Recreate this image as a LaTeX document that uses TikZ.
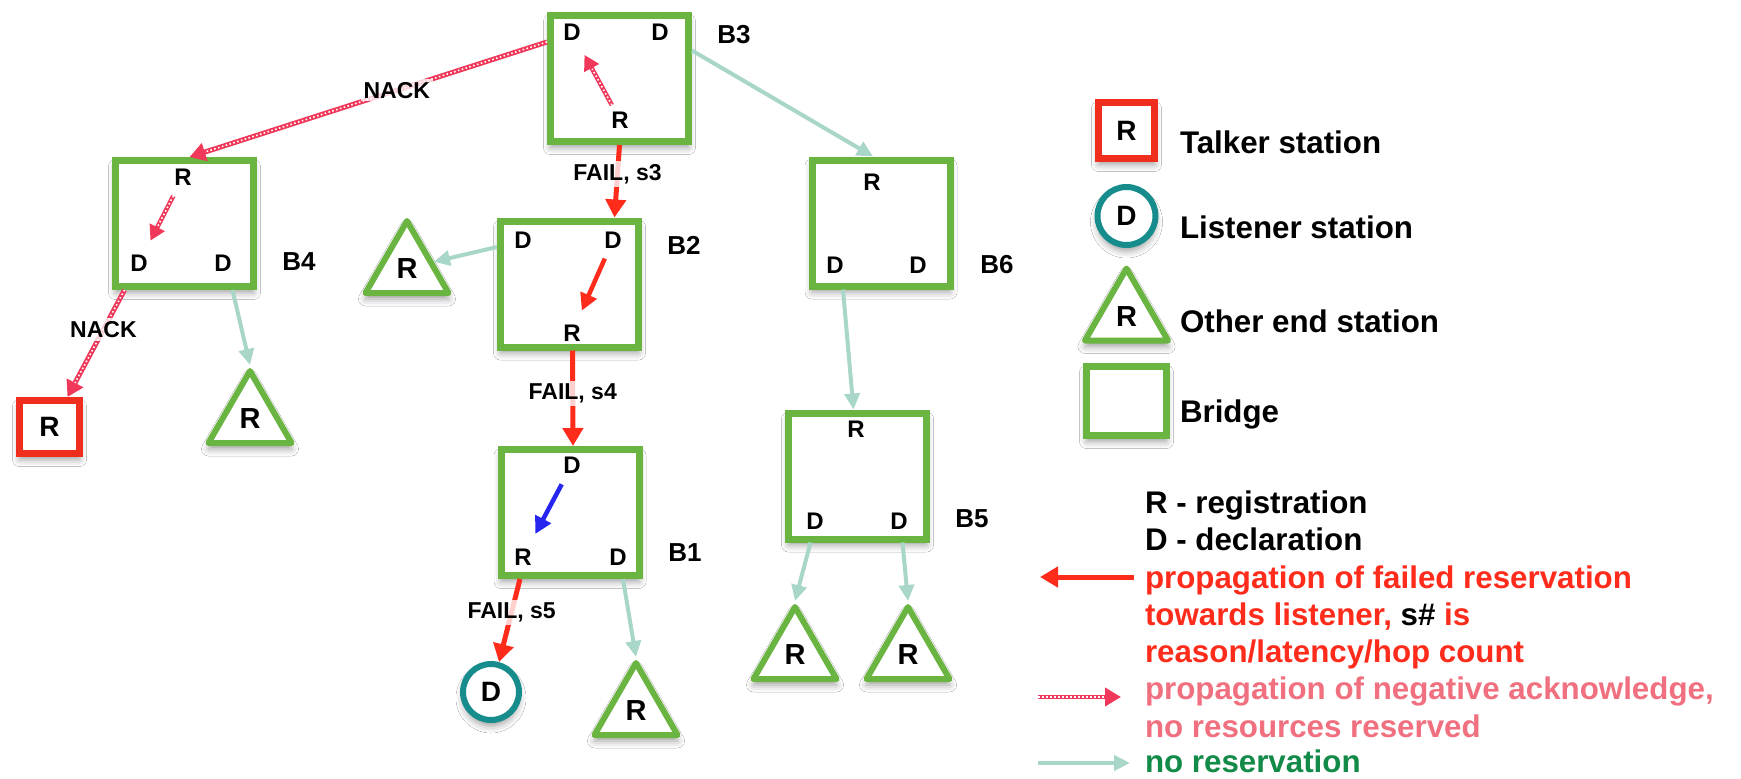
\documentclass[tikz,border=0pt]{standalone}
\usepackage{fontspec}
\setmainfont{Liberation Sans}
\usetikzlibrary{arrows.meta,shapes.geometric,shadows.blur,calc}

\definecolor{bgreen}{RGB}{106,180,66}
\definecolor{tred}{RGB}{240,46,30}
\definecolor{lteal}{RGB}{22,140,140}
\definecolor{failred}{RGB}{255,44,28}
\definecolor{nackpink}{RGB}{240,56,90}
\definecolor{nacktext}{RGB}{240,112,128}
\definecolor{noresgreen}{RGB}{168,214,200}
\definecolor{darkgreen}{RGB}{18,138,72}
\definecolor{blueA}{RGB}{38,38,240}

\begin{document}
\begin{tikzpicture}[x=1pt,y=-1pt,
  every node/.style={inner sep=0pt, outer sep=0pt},
  softshadow/.style={blur shadow={shadow xshift=0pt, shadow yshift=-6pt, shadow blur radius=7pt, shadow opacity=38}},
  bridge/.style={draw=bgreen, line width=7pt, fill=white, minimum width=138pt, minimum height=126pt, outer sep=3.5pt, softshadow},
  legbridge/.style={bridge, minimum width=80pt, minimum height=69pt},
  talker/.style={draw=tred, line width=7pt, fill=white, minimum width=60pt, minimum height=53pt, outer sep=3.5pt, softshadow, font=\fontsize{28}{28}\selectfont\bfseries},
  listener/.style={circle, draw=lteal, line width=6pt, fill=white, minimum size=56pt, outer sep=3pt, softshadow, font=\fontsize{28}{28}\selectfont\bfseries},
  endst/.style={regular polygon, regular polygon sides=3, draw=bgreen, line width=6pt, line join=round, fill=white, minimum size=96pt, outer sep=3pt, softshadow, font=\fontsize{29}{29}\selectfont\bfseries},
  port/.style={font=\fontsize{24}{24}\selectfont\bfseries},
  blabel/.style={font=\fontsize{26}{26}\selectfont\bfseries},
  lbl/.style={font=\fontsize{23}{23}\selectfont\bfseries, fill=white, fill opacity=0.78, text opacity=1, inner sep=3pt},
  legtxt/.style={font=\fontsize{31.3}{31.3}\selectfont\bfseries, anchor=base west},
  fail/.style={draw=failred, line width=5pt, -{Triangle[length=18pt,width=20pt]}},
  failin/.style={draw=failred, line width=4.5pt, -{Triangle[length=17pt,width=17pt]}},
  bluein/.style={failin, draw=blueA},
  nores/.style={draw=noresgreen, line width=4pt, -{Triangle[length=16pt,width=15pt]}},
  nack/.style={draw=nackpink, line width=5pt, -{Triangle[length=16pt,width=18pt]},
    postaction={draw=white, line width=1.6pt, dash pattern=on 1.6pt off 2.4pt, arrows=-, shorten >=16pt}},
  nackin/.style={nack, line width=4.5pt, -{Triangle[length=15pt,width=16pt]}}
]
\useasboundingbox (0,0) rectangle (1741,779);
\fill[white] (0,0) rectangle (1741,779);

% bridges
\node[bridge] (B3) at (619.5,78.5) {};
\node[bridge] (B4) at (184.5,223.5) {};
\node[bridge] (B2) at (569.5,284) {};
\node[bridge] (B1) at (570,512.5) {};
\node[bridge] (B6) at (881,223) {};
\node[bridge] (B5) at (857.5,476) {};

% end stations
\node[talker] (TK) at (49.5,427) {R};
\node[listener] (LS) at (491,692) {D};
\node[endst] (T4) at (250,419) {R};
\node[endst] (T2) at (407,269) {R};
\node[endst] (T1) at (636,711) {R};
\node[endst] (T5a) at (795,655) {R};
\node[endst] (T5b) at (908,655) {R};

% ports inside the bridges
\node[port] (B3dl) at (572,32) {D};
\node[port] (B3dr) at (660,32) {D};
\node[port] (B3r)  at (620,120) {R};
\node[port] (B4r)  at (183,177) {R};
\node[port] (B4dl) at (139,263) {D};
\node[port] (B4dr) at (223,263) {D};
\node[port] (B2dl) at (523,240) {D};
\node[port] (B2dr) at (613,240) {D};
\node[port] (B2r)  at (572,333) {R};
\node[port] (B1dt) at (572,465) {D};
\node[port] (B1r)  at (523,557) {R};
\node[port] (B1dr) at (618,557) {D};
\node[port] (B6r)  at (872,182) {R};
\node[port] (B6dl) at (835,265) {D};
\node[port] (B6dr) at (918,265) {D};
\node[port] (B5r)  at (856,429) {R};
\node[port] (B5dl) at (815,521) {D};
\node[port] (B5dr) at (899,521) {D};

% bridge names
\node[blabel] (L3) at (734,35) {B3};
\node[blabel] (L4) at (299,262) {B4};
\node[blabel] (L2) at (684,245) {B2};
\node[blabel] (L1) at (685,553) {B1};
\node[blabel] (L6) at (997,265) {B6};
\node[blabel] (L5) at (972,519) {B5};

% paths inside the bridges
\draw[nackin] ($(B3r)!0.17!(B3dl)$) -- ($(B3r)!0.74!(B3dl)$);
\draw[nackin] ($(B4r)!0.22!(B4dl)$) -- ($(B4r)!0.74!(B4dl)$);
\draw[failin] ($(B2dr)!0.2!(B2r)$) -- ($(B2dr)!0.76!(B2r)$);
\draw[bluein] ($(B1dt)!0.21!(B1r)$) -- ($(B1dt)!0.75!(B1r)$);

% links between stations
\draw[nack] ([yshift=36.5pt]B3.west) -- node[lbl,pos=0.42]{NACK} ([xshift=5pt]B4.north);
\draw[nack] ([xshift=-60pt]B4.south) -- node[lbl,pos=0.37]{NACK} ([xshift=18pt]TK.north);
\draw[nores] ([xshift=48pt]B4.south) -- (T4.north);
\draw[nores] ([yshift=37pt]B2.west) -- (T2.15);
\draw[fail] (B3.south) -- node[lbl,pos=0.4]{FAIL, s3} ([xshift=45pt]B2.north);
\draw[fail] ([xshift=3pt]B2.south) -- node[lbl,pos=0.45]{FAIL, s4} ([xshift=3pt]B1.north);
\draw[fail] ([xshift=-50pt]B1.south) -- node[lbl,pos=0.4]{FAIL, s5} (LS.75);
\draw[nores] ([xshift=53pt]B1.south) -- (T1.north);
\draw[nores] ([yshift=28pt]B3.east) -- ([xshift=-8pt]B6.north);
\draw[nores] ([xshift=-38pt]B6.south) -- ([xshift=-4pt]B5.north);
\draw[nores] ([xshift=-47pt]B5.south) -- (T5a.north);
\draw[nores] ([xshift=45pt]B5.south) -- (T5b.north);

% legend: symbols
\node[talker, minimum width=56pt, minimum height=56pt] (KT) at (1126.5,130.5) {R};
\node[listener, minimum size=58pt] (KL) at (1126.5,216) {D};
\node[endst] (KE) at (1126.5,316.5) {R};
\node[legbridge] (KB) at (1126.5,401) {};
\node[legtxt] (KTt) at (1180,153.5) {Talker station};
\node[legtxt] (KLt) at (1180,238) {Listener station};
\node[legtxt] (KEt) at (1180,332.5) {Other end station};
\node[legtxt] (KBt) at (1180,422) {Bridge};

% legend: notation
\node[legtxt] (N1) at (1145,513) {R - registration};
\node[legtxt] (N2) at (1145,550.5) {D - declaration};
\node[legtxt, text=failred] (N3) at (1145,588) {propagation of failed reservation};
\node[legtxt, text=failred] (N4) at (1145,625) {towards listener, \textcolor{black}{s\#} is};
\node[legtxt, text=failred] (N5) at (1145,662) {reason/latency/hop count};
\node[legtxt, text=nacktext] (N6) at (1145,699.5) {propagation of negative acknowledge,};
\node[legtxt, text=nacktext] (N7) at (1145,737) {no resources reserved};
\node[legtxt, text=darkgreen] (N8) at (1145,772) {no reservation};

\coordinate (LfA) at (1134,577);
\coordinate (LfB) at (1040,577);
\draw[fail] (LfA) -- (LfB);
\coordinate (LnA) at (1038,697);
\coordinate (LnB) at (1121,697);
\draw[nack, line width=4pt] (LnA) -- (LnB);
\coordinate (LgA) at (1038,763);
\coordinate (LgB) at (1130,763);
\draw[nores] (LgA) -- (LgB);
\end{tikzpicture}
\end{document}
